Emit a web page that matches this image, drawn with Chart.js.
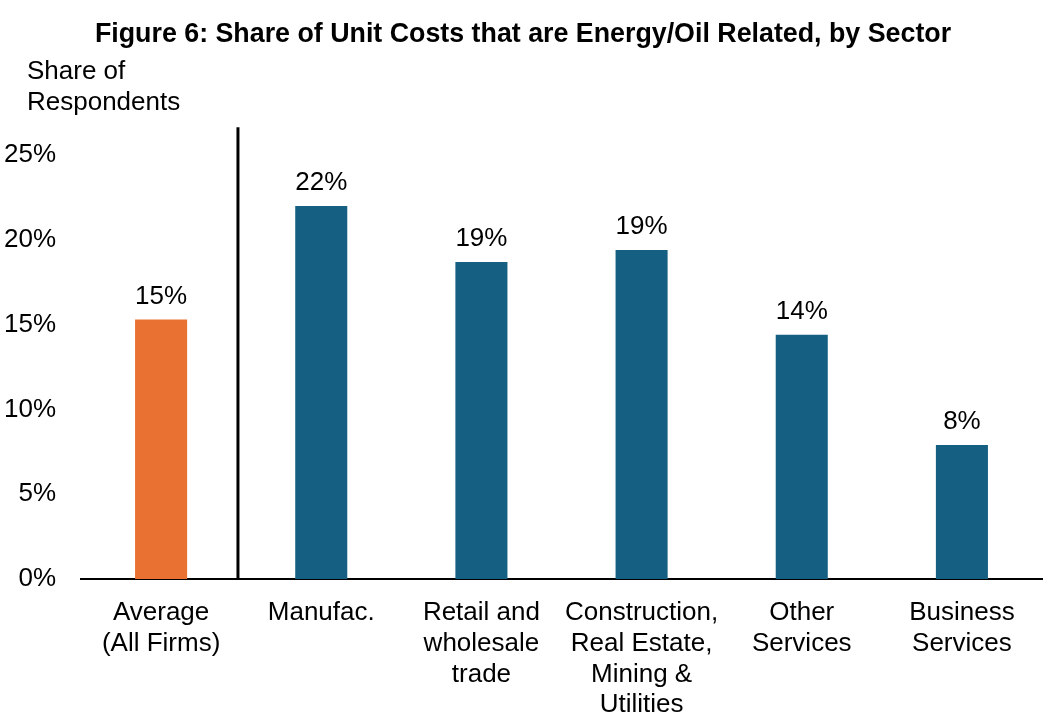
<!DOCTYPE html>
<html>
<head>
<meta charset="utf-8">
<script src="https://cdn.jsdelivr.net/npm/chart.js@4.4.1/dist/chart.umd.min.js"></script>
<style>
    html, body { margin: 0; padding: 0; background: #fff; }
    #wrap { width: 1044px; height: 725px; }
</style>
</head>
<body>
<div id="wrap"><canvas id="costChart" width="1044" height="725"></canvas></div>
<script>
const sectors = [
    ["Average", "(All Firms)"],
    ["Manufac."],
    ["Retail and", "wholesale", "trade"],
    ["Construction,", "Real Estate,", "Mining &", "Utilities"],
    ["Other", "Services"],
    ["Business", "Services"]
];
const shareValues = [15.3, 22.0, 18.7, 19.4, 14.4, 7.9];
const barColors = ["#E97132", "#156082", "#156082", "#156082", "#156082", "#156082"];
const yTicks = [0, 5, 10, 15, 20, 25];

const FONT = "'Liberation Sans', Arial, sans-serif";

// value labels over the bars + the divider after the average bar
const extras = {
    id: "extras",
    afterDatasetsDraw(chart) {
        let ctx = chart.ctx;
        let meta = chart.getDatasetMeta(0);
        ctx.save();
        ctx.font = "26px " + FONT;
        ctx.fillStyle = "#000";
        ctx.textAlign = "center";
        ctx.textBaseline = "alphabetic";
        meta.data.forEach((bar, i) => {
            ctx.fillText(Math.round(shareValues[i]) + "%", bar.x, bar.y - 16);
        });

        let x = chart.scales.x.getPixelForValue(0.48);
        ctx.strokeStyle = "#000";
        ctx.lineWidth = 3;
        ctx.beginPath();
        ctx.moveTo(x, chart.chartArea.top - 28);
        ctx.lineTo(x, chart.chartArea.bottom - 1);
        ctx.stroke();

        ctx.textAlign = "left";
        ctx.textBaseline = "middle";
        ctx.fillText("Share of", 27, 72);
        ctx.fillText("Respondents", 27, 103);
        ctx.restore();
    }
};

new Chart(document.getElementById("costChart").getContext("2d"), {
    type: "bar",
    data: {
        labels: sectors,
        datasets: [{
            data: shareValues,
            backgroundColor: barColors,
            borderWidth: 0,
            categoryPercentage: 1,
            barPercentage: 0.325
        }]
    },
    options: {
        responsive: false,
        animation: false,
        layout: { padding: { left: 4, right: 2, top: 0, bottom: 0 } },
        plugins: {
            legend: { display: false },
            tooltip: { enabled: false },
            title: {
                display: true,
                text: "Figure 6: Share of Unit Costs that are Energy/Oil Related, by Sector",
                color: "#000",
                font: { family: FONT, size: 26.8, weight: "bold", lineHeight: 1.2 },
                padding: { top: 19, bottom: 104 }
            }
        },
        scales: {
            x: {
                grid: { display: false, drawTicks: false },
                border: { display: true, color: "#000", width: 2 },
                ticks: {
                    color: "#000",
                    font: { family: FONT, size: 26, lineHeight: 1.19 },
                    padding: 18,
                    maxRotation: 0,
                    autoSkip: false
                },
                afterFit(scale) { scale.height = 146; }
            },
            y: {
                min: 0,
                max: 25,
                afterBuildTicks(scale) { scale.ticks = yTicks.map(v => ({ value: v })); },
                grid: { display: false, drawTicks: false },
                border: { display: false },
                ticks: {
                    color: "#000",
                    font: { family: FONT, size: 26 },
                    padding: 25,
                    callback: v => v + "%"
                },
                afterFit(scale) { scale.width = 77; }
            }
        }
    },
    plugins: [extras]
});
</script>
</body>
</html>
